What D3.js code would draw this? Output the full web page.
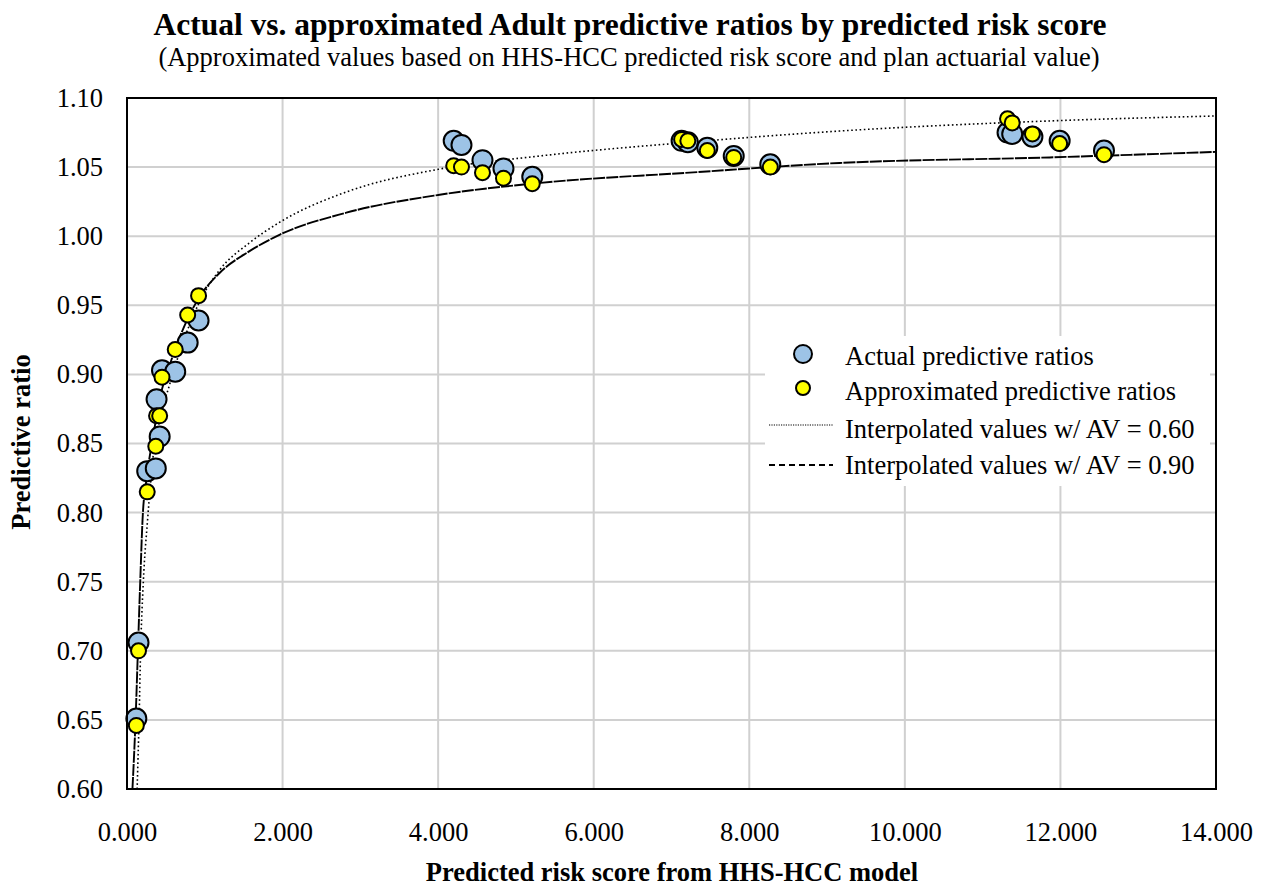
<!DOCTYPE html>
<html>
<head>
<meta charset="utf-8">
<script src="https://cdn.jsdelivr.net/npm/d3@7"></script>
<style>
  html, body { margin: 0; padding: 0; background: #fff; }
  svg { display: block; font-family: "Liberation Serif", "Times New Roman", serif; }
</style>
</head>
<body>
<svg id="chart" width="1264" height="886"></svg>
<script>
// Risk scores and predictive ratios for each plan group
const riskScores   = [0.12, 0.148, 0.26, 0.37, 0.38, 0.42, 0.45, 0.62, 0.78, 0.92,
                      4.20, 4.30, 4.57, 4.84, 5.21,
                      7.13, 7.21, 7.46, 7.80, 8.27,
                      11.32, 11.38, 11.64, 11.99, 12.56];
const actualRatios = [0.651, 0.706, 0.830, 0.832, 0.882, 0.855, 0.903, 0.902, 0.923, 0.939,
                      1.069, 1.066, 1.055, 1.049, 1.043,
                      1.069, 1.068, 1.064, 1.058, 1.052,
                      1.075, 1.074, 1.072, 1.069, 1.062];
const approxRatios = [0.646, 0.700, 0.815, 0.848, 0.870, 0.870, 0.898, 0.918, 0.943, 0.957,
                      1.051, 1.050, 1.046, 1.042, 1.038,
                      1.070, 1.069, 1.062, 1.057, 1.050,
                      1.085, 1.082, 1.074, 1.067, 1.059];

// Interpolated curves for two actuarial values
const curveXAv60 = [0.13, 0.155, 0.175, 0.21, 0.265, 0.33, 0.42, 0.55, 0.70, 0.92, 1.19, 1.57, 1.96, 2.82, 4.02, 5.30, 7.23, 9.16, 11.86, 14.0];
const curveYAv60 = [0.600, 0.650, 0.700, 0.750, 0.795, 0.838, 0.867, 0.893, 0.920, 0.951, 0.9755, 0.995, 1.010, 1.032, 1.0486, 1.058, 1.068, 1.0761, 1.0834, 1.087];
const curveXAv90 = [0.07, 0.11, 0.14, 0.17, 0.20, 0.25, 0.33, 0.42, 0.55, 0.70, 0.92, 1.19, 1.57, 1.96, 2.82, 4.02, 5.30, 7.23, 9.16, 11.86, 14.0];
const curveYAv90 = [0.600, 0.650, 0.700, 0.750, 0.795, 0.824, 0.853, 0.882, 0.907, 0.930, 0.955, 0.9734, 0.989, 1.001, 1.017, 1.030, 1.0385, 1.046, 1.053, 1.057, 1.061];

const xTicks = [0, 2, 4, 6, 8, 10, 12, 14];
const yTicks = [0.60, 0.65, 0.70, 0.75, 0.80, 0.85, 0.90, 0.95, 1.00, 1.05, 1.10];

const titleText = "Actual vs. approximated Adult predictive ratios by predicted risk score";
const subtitleText = "(Approximated values based on HHS-HCC predicted risk score and plan actuarial value)";
const xTitle = "Predicted risk score from HHS-HCC model";
const yTitle = "Predictive ratio";
const legendLabels = ["Actual predictive ratios", "Approximated predictive ratios",
                      "Interpolated values w/ AV = 0.60", "Interpolated values w/ AV = 0.90"];

const svg = d3.select("#chart");
const plot = { left: 127, right: 1216, top: 98, bottom: 789 };

const x = d3.scaleLinear().domain([0, 14]).range([plot.left, plot.right]);
const y = d3.scaleLinear().domain([0.60, 1.10]).range([plot.bottom, plot.top]);

// Gridlines
const grid = svg.append("g");
grid.selectAll("line.v").data(xTicks.slice(1, -1)).join("line")
  .attr("x1", d => x(d)).attr("x2", d => x(d))
  .attr("y1", plot.top).attr("y2", plot.bottom)
  .attr("stroke", "#d0d0d0").attr("stroke-width", 2);
grid.selectAll("line.h").data(yTicks.slice(1, -1)).join("line")
  .attr("x1", plot.left).attr("x2", plot.right)
  .attr("y1", d => y(d)).attr("y2", d => y(d))
  .attr("stroke", "#d0d0d0").attr("stroke-width", 2);

// Axes (labels only; the frame is drawn separately)
const xAxis = d3.axisBottom(x).tickValues(xTicks).tickFormat(d3.format(".3f")).tickSize(0).tickPadding(0);
const yAxis = d3.axisLeft(y).tickValues(yTicks).tickFormat(d3.format(".2f")).tickSize(0).tickPadding(0);

const gx = svg.append("g").attr("transform", `translate(0,${plot.bottom + 52})`).call(xAxis);
const gy = svg.append("g").attr("transform", `translate(${plot.left - 24},0)`).call(yAxis);
[gx, gy].forEach(g => {
  g.select(".domain").remove();
  g.selectAll("text").attr("font-family", "Liberation Serif").attr("font-size", 26.5).attr("fill", "#000");
});
gx.selectAll("text").attr("dy", 0).attr("y", 0);

// Curves
svg.append("clipPath").attr("id", "plotclip").append("rect")
  .attr("x", plot.left).attr("y", plot.top)
  .attr("width", plot.right - plot.left).attr("height", plot.bottom - plot.top);

const line = d3.line().x(d => x(d[0])).y(d => y(d[1])).curve(d3.curveMonotoneX);
const curves = svg.append("g").attr("clip-path", "url(#plotclip)");
curves.append("path")
  .datum(d3.zip(curveXAv60, curveYAv60))
  .attr("d", line).attr("fill", "none")
  .attr("stroke", "#000").attr("stroke-width", 1.6).attr("stroke-dasharray", "1.6,2.6");
curves.append("path")
  .datum(d3.zip(curveXAv90, curveYAv90))
  .attr("d", line).attr("fill", "none")
  .attr("stroke", "#000").attr("stroke-width", 1.9).attr("stroke-dasharray", "12,1.2");

// Markers: actual first, approximated on top
const pts = svg.append("g");
pts.selectAll("circle.actual").data(d3.zip(riskScores, actualRatios)).join("circle")
  .attr("class", "actual")
  .attr("cx", d => x(d[0])).attr("cy", d => y(d[1])).attr("r", 10)
  .attr("fill", "#9dc3e6").attr("stroke", "#000").attr("stroke-width", 2);
pts.selectAll("circle.approx").data(d3.zip(riskScores, approxRatios)).join("circle")
  .attr("class", "approx")
  .attr("cx", d => x(d[0])).attr("cy", d => y(d[1])).attr("r", 7.5)
  .attr("fill", "#ffff00").attr("stroke", "#000").attr("stroke-width", 2);

// Frame
svg.append("rect")
  .attr("x", plot.left).attr("y", plot.top)
  .attr("width", plot.right - plot.left).attr("height", plot.bottom - plot.top)
  .attr("fill", "none").attr("stroke", "#000").attr("stroke-width", 2);

// Legend
const legend = svg.append("g").attr("font-family", "Liberation Serif").attr("font-size", 26.5);
const rows = [356, 391, 429, 465];
legend.append("rect").attr("x", 765).attr("y", 336).attr("width", 445).attr("height", 150).attr("fill", "#fff");
legend.append("circle").attr("cx", 803).attr("cy", rows[0] - 2).attr("r", 9)
  .attr("fill", "#9dc3e6").attr("stroke", "#000").attr("stroke-width", 2);
legend.append("circle").attr("cx", 803).attr("cy", rows[1] - 3).attr("r", 7)
  .attr("fill", "#ffff00").attr("stroke", "#000").attr("stroke-width", 2);
legend.append("line").attr("x1", 769).attr("x2", 833).attr("y1", rows[2] - 4).attr("y2", rows[2] - 4)
  .attr("stroke", "#000").attr("stroke-width", 1.2).attr("stroke-dasharray", "1.2,1.2");
legend.append("line").attr("x1", 769).attr("x2", 833).attr("y1", rows[3]).attr("y2", rows[3])
  .attr("stroke", "#000").attr("stroke-width", 1.8).attr("stroke-dasharray", "6,4");
legend.selectAll("text").data(legendLabels).join("text")
  .attr("x", 845).attr("y", (d, i) => rows[i]).attr("dy", "0.33em")
  .text(d => d);

// Titles
svg.append("text").attr("x", 630).attr("y", 35).attr("text-anchor", "middle")
  .attr("font-family", "Liberation Serif").attr("font-weight", "bold").attr("font-size", 31.5)
  .text(titleText);
svg.append("text").attr("x", 629).attr("y", 66).attr("text-anchor", "middle")
  .attr("font-family", "Liberation Serif").attr("font-size", 26.5)
  .text(subtitleText);
svg.append("text").attr("x", 672).attr("y", 881).attr("text-anchor", "middle")
  .attr("font-family", "Liberation Serif").attr("font-weight", "bold").attr("font-size", 26.5)
  .text(xTitle);
svg.append("text").attr("transform", "translate(30,442) rotate(-90)").attr("text-anchor", "middle")
  .attr("font-family", "Liberation Serif").attr("font-weight", "bold").attr("font-size", 26.5)
  .text(yTitle);
</script>
</body>
</html>
